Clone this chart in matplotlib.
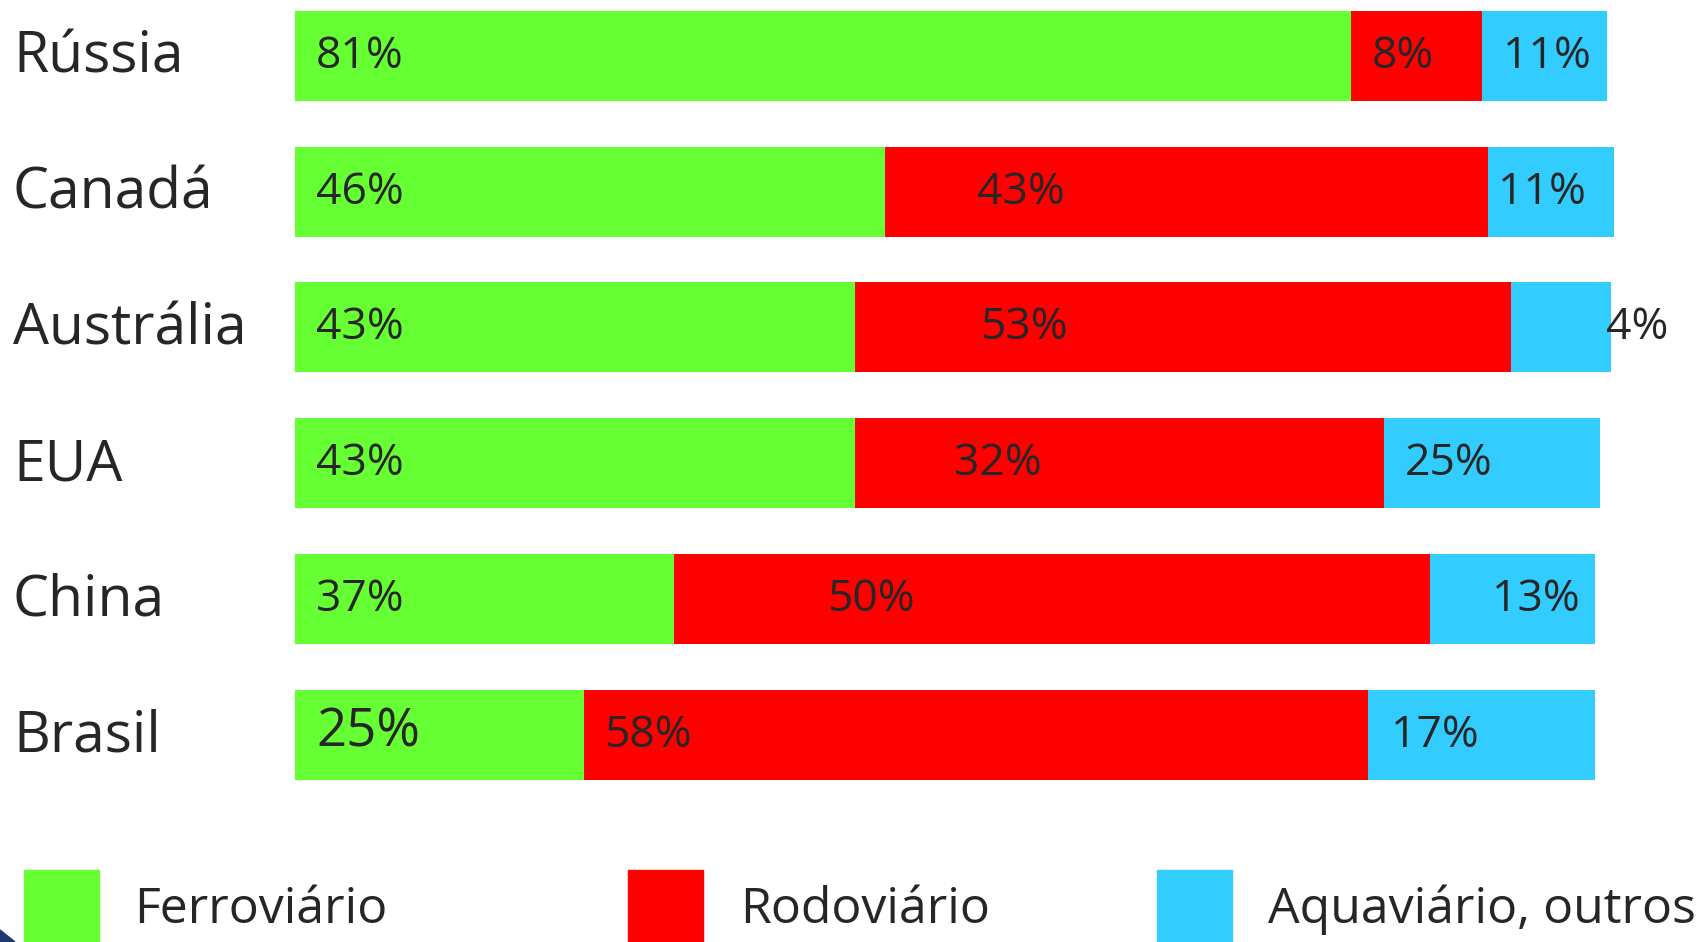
import matplotlib.pyplot as plt
from matplotlib.patches import Rectangle, Polygon

plt.rcParams['font.family'] = ['Open Sans', 'DejaVu Sans']

# dados
paises = ["Rússia", "Canadá", "Austrália", "EUA", "China", "Brasil"]
modos = ["Ferroviário", "Rodoviário", "Aquaviário, outros"]
cores = ["#66ff33", "#ff0000", "#33ccff"]

# percentuais escritos nas barras
ferroviario = [81, 46, 43, 43, 37, 25]
rodoviario = [8, 43, 53, 32, 50, 58]
aquaviario = [11, 11, 4, 25, 13, 17]

# comprimento desenhado de cada trecho (a figura original nao esta em escala)
larg_ferro = [80.5, 45.0, 42.7, 42.7, 28.9, 22.0]
larg_rodo = [10.0, 45.9, 50.0, 40.3, 57.6, 59.8]
larg_aqua = [9.5, 9.6, 7.6, 16.5, 12.6, 17.3]

# deslocamento de cada rotulo a partir do inicio do trecho
desl = [
    [1.6, 1.6, 1.6],
    [1.6, 7.0, 0.8],
    [1.6, 9.5, 7.2],
    [1.6, 7.5, 1.6],
    [1.6, 11.7, 4.7],
    [1.6, 1.6, 1.75],
]

texto = "#262626"
W, H = 1698, 942
px = 13.12  # pixels por unidade

fig = plt.figure(figsize=(W / 100, H / 100), dpi=100)
ax = fig.add_axes([0, 0, 1, 1])
ax.set_xlim(-295 / px, (W - 295) / px)
ax.set_ylim((H - 55.8) / 135.8, -55.8 / 135.8)
ax.axis("off")

y = range(len(paises))
valores = [ferroviario, rodoviario, aquaviario]
larguras = [larg_ferro, larg_rodo, larg_aqua]

esquerda = [0] * len(paises)
for k in range(3):
    ax.barh(y, larguras[k], left=esquerda, height=0.663, color=cores[k])
    for i in y:
        tamanho = 38 if (k == 0 and paises[i] == "Brasil") else 32
        ax.text(
            esquerda[i] + desl[i][k],
            i + 0.088,
            f"{valores[k][i]}%",
            fontsize=tamanho,
            color=texto,
            va="baseline",
            ha="left"
        )
    esquerda = [esquerda[i] + larguras[k][i] for i in y]

# nomes dos paises
for i, nome in enumerate(paises):
    ax.text(
        (13 - 295) / px,
        i + 0.125,
        nome,
        fontsize=41,
        color=texto,
        va="baseline",
        ha="left"
    )

# legenda
leg_x = [24, 628, 1157]
txt_x = [134, 740, 1268]
for k in range(3):
    fig.patches.append(Rectangle(
        (leg_x[k] / W, -0.05), 75 / W, 0.05 + (H - 870) / H,
        transform=fig.transFigure, color=cores[k]
    ))
    fig.text(txt_x[k] / W, (H - 923) / H, modos[k],
             fontsize=36, color=texto, va="baseline", ha="left")

# canto decorativo
fig.patches.append(Polygon(
    [(0, 0), (15 / W, 0), (0, 12 / H)],
    closed=True, transform=fig.transFigure, color="#1f3a6e"
))

fig.savefig("out.png", dpi=100)
